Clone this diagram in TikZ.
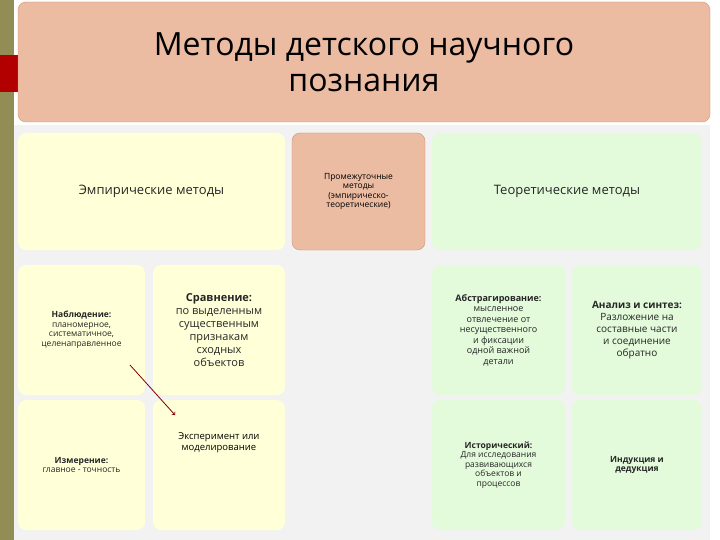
\documentclass[tikz,border=0pt]{standalone}
\usepackage{fontspec}
\setmainfont{Open Sans}
\begin{document}
\begin{tikzpicture}[x=1pt,y=-1pt,
 yb/.style={draw=none,fill=yfill,rounded corners=8pt,align=center,text=black!85},
 gb/.style={draw=none,fill=gfill,rounded corners=8pt,align=center,text=black!85},
 sm/.style={font=\fontsize{8.5}{9.5}\selectfont},
 md/.style={font=\fontsize{13}{14}\selectfont}]
\definecolor{yfill}{HTML}{FFFFD8}
\definecolor{gfill}{HTML}{E3FADB}
\definecolor{tfill}{HTML}{EBBBA2}
\definecolor{tborder}{HTML}{D9926A}
\useasboundingbox (0,0) rectangle (720,540);
\fill[white] (0,0) rectangle (720,540);
\fill[black!5] (14,125) rectangle (710,540);
\fill[olive!60!black!70] (0,0) rectangle (14,540);
\fill[red!70!black] (0,55) rectangle (20,92);
\node[draw=tborder,fill=tfill,rounded corners=8pt,minimum width=692,minimum height=120,align=center,
 font=\fontsize{32}{36}\selectfont] (title) at (364,62) {Методы детского научного\\познания};
\node[yb,minimum width=267,minimum height=117,md] (emp) at (151.5,191.5) {Эмпирические методы};
\node[draw=tborder,fill=tfill,rounded corners=8pt,minimum width=133,minimum height=117,align=center,sm] (mid) at (358.5,191.5) {Промежуточные\\методы\\(эмпирическо-\\теоретические)};
\node[gb,minimum width=270,minimum height=117,md] (teo) at (567,191.5) {Теоретические методы};
\node[yb,minimum width=127,minimum height=130,sm] (nab) at (81.5,330) {\textbf{Наблюдение:}\\планомерное,\\систематичное,\\целенаправленное};
\node[yb,minimum width=132,minimum height=130,font=\fontsize{11}{13}\selectfont] (srav) at (219,330) {\textbf{Сравнение:}\\по выделенным\\существенным\\признакам\\сходных\\объектов};
\node[gb,minimum width=133,minimum height=130,font=\fontsize{9}{10.5}\selectfont] (abs) at (498.5,330) {\textbf{Абстрагирование:}\\мысленное\\отвлечение от\\несущественного\\и фиксации\\одной важной\\детали};
\node[gb,minimum width=130,minimum height=130,font=\fontsize{10}{12}\selectfont] (an) at (637,330) {\textbf{Анализ и синтез:}\\Разложение на\\составные части\\и соединение\\обратно};
\node[yb,minimum width=127,minimum height=130,sm] (izm) at (81.5,465) {\textbf{Измерение:}\\главное - точность};
\node[yb,minimum width=132,minimum height=130,anchor=north] (eks) at (219,400) {};
\node[font=\fontsize{9.5}{11}\selectfont,align=center] (ekst) at (219,443) {Эксперимент или\\моделирование};
\node[gb,minimum width=133,minimum height=130,sm] (ist) at (498.5,465) {\textbf{Исторический:}\\Для исследования\\развивающихся\\объектов и\\процессов};
\node[gb,minimum width=130,minimum height=130,sm] (ind) at (637,465) {\textbf{Индукция и}\\\textbf{дедукция}};
\coordinate (a1) at (130,365);
\coordinate (a2) at (175,415);
\draw[red!50!black,thick,->] (a1) -- (a2);
\end{tikzpicture}
\end{document}
